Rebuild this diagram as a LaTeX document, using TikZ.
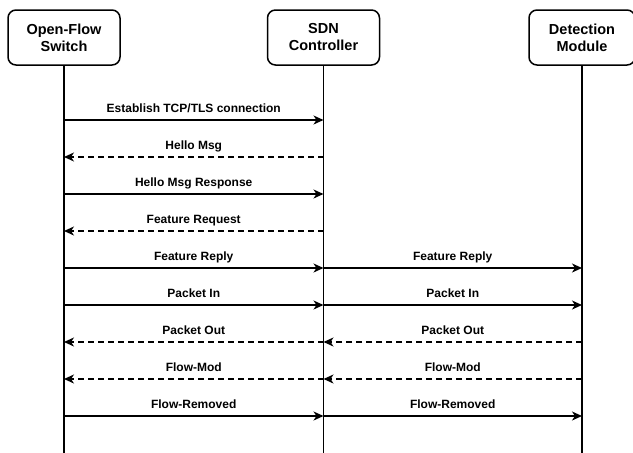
\documentclass[tikz,border=0pt]{standalone}
\usepackage{fontspec}
\setmainfont{Liberation Sans}
\usetikzlibrary{arrows.meta,positioning}

\tikzset{
  actor/.style={draw, line width=1.5pt, rounded corners=8pt, minimum width=112pt,
    minimum height=55pt, align=center, inner sep=0pt,
    font=\fontsize{14.5}{17}\selectfont\bfseries},
  life/.style={line width=1.5pt},
  msg/.style={line width=1.5pt, -{Stealth[length=10pt,width=9pt,inset=3pt]}},
  reply/.style={msg, dash pattern=on 6pt off 4pt},
  lbl/.style={midway, anchor=base, yshift=7.5pt, inner sep=0pt,
    font=\fontsize{12}{14}\selectfont\bfseries}
}

\begin{document}
\begin{tikzpicture}[x=1pt,y=-1pt]
  \def\firsty{120}
  \def\gap{37}
  \useasboundingbox (0,0) rectangle (633,453);

  % the three parties
  \node[actor] (sw) at (64,37.5) {Open-Flow\\Switch};
  \node[actor, right=146pt of sw] (ctl) {SDN\\Controller};
  \node[actor, right=148pt of ctl, minimum width=106pt] (det) {Detection\\Module};

  \foreach \n in {sw,ctl,det} {  %lifeline of each party
    \coordinate (\n-end) at (\n.south |- 0,453);
    \draw[life] (\n) -- (\n-end);
    \foreach \i in {1,...,9} {   %one point per message row
      \pgfmathsetmacro{\y}{\firsty+(\i-1)*\gap}
      \coordinate (\n\i) at (\n.south |- 0,\y);
    }
  }

  % messages between switch and controller
  \foreach \i/\a/\b/\s/\txt in {1/sw/ctl/msg/{Establish TCP/TLS connection},
      2/ctl/sw/reply/{Hello Msg}, 3/sw/ctl/msg/{Hello Msg Response},
      4/ctl/sw/reply/{Feature Request}, 5/sw/ctl/msg/{Feature Reply},
      6/sw/ctl/msg/{Packet In}, 7/ctl/sw/reply/{Packet Out},
      8/ctl/sw/reply/{Flow-Mod}, 9/sw/ctl/msg/{Flow-Removed}} {
    \draw[\s] (\a\i) -- (\b\i) node[lbl] {\txt};
  }
  % messages between controller and detection module
  \foreach \i/\a/\b/\s/\txt in {5/ctl/det/msg/{Feature Reply},
      6/ctl/det/msg/{Packet In}, 7/det/ctl/reply/{Packet Out},
      8/det/ctl/reply/{Flow-Mod}, 9/ctl/det/msg/{Flow-Removed}} {
    \draw[\s] (\a\i) -- (\b\i) node[lbl] {\txt};
  }
\end{tikzpicture}
\end{document}
